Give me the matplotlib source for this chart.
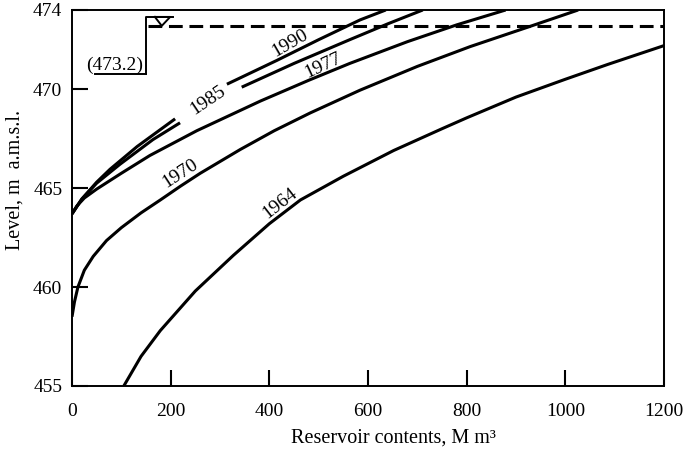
import numpy as np
import matplotlib
matplotlib.use("Agg")
import matplotlib.pyplot as plt

plt.rcParams['font.family'] = ['Liberation Serif', 'DejaVu Serif']

# Storage curves (M m3 vs m a.m.s.l.), nan = gap for label
x1964 = [105, 140, 179, 250, 327, 400, 463, 550, 652, 750, 800, 900, 1000, 1086, 1200]
y1964 = [455.0, 456.5, 457.8, 459.8, 461.6, 463.2, 464.4, 465.6, 466.9, 468.0, 468.55, 469.6, 470.5, 471.25, 472.2]

x1970 = [0, 5, 12, 25, 43, 70, 100, 140, 179, 220, 260, 341, 410, 483, 584, 700, 807, 920, 1026]
y1970 = [458.5, 459.25, 460.0, 460.85, 461.55, 462.35, 463.0, 463.75, 464.4, 465.1, 465.75,
         466.95, 467.9, 468.8, 469.95, 471.15, 472.15, 473.1, 474.0]

x1977 = [0, 10, 25, 50, 100, 158, 253, 382, 480, 563, 680, 780, 879]
y1977 = [463.7, 464.1, 464.5, 464.95, 465.75, 466.65, 467.9, 469.4, 470.45, 471.3, 472.4, 473.25, 474.0]

x1985 = [0, 20, 50, 97, 164, 219, np.nan, 344, 450, 563, 640, 711]
y1985 = [463.7, 464.45, 465.25, 466.2, 467.45, 468.3, np.nan, 470.1, 471.3, 472.5, 473.3, 474.0]

x1990 = [0, 20, 50, 77, 132, 209, np.nan, 314, 415, 500, 584, 636]
y1990 = [463.7, 464.45, 465.3, 465.95, 467.1, 468.5, np.nan, 470.25, 471.45, 472.5, 473.5, 474.0]

curves = [(x1964, y1964), (x1970, y1970), (x1977, y1977), (x1985, y1985), (x1990, y1990)]

# labels on curves: text, x, y, angle
lab_text = ['1964', '1970', '1977', '1985', '1990']
lab_x = [422, 219, 509, 276, 442]
lab_y = [464.25, 465.75, 471.2, 469.45, 472.3]
lab_rot = [38, 33, 25, 34, 30]

full_level = 473.2
xticks = [0, 200, 400, 600, 800, 1000, 1200]
yticks = [455, 460, 465, 470, 474]

fig = plt.figure(figsize=(6.83, 4.5), dpi=100)
ax = fig.add_axes([72 / 683, 64 / 450, 592 / 683, 376 / 450])

for xs, ys in curves:
    ax.plot(xs, ys, color='black', lw=2.2, solid_capstyle='butt',
            solid_joinstyle='round')

for t, x, y, r in zip(lab_text, lab_x, lab_y, lab_rot):
    ax.text(x, y, t, rotation=r, ha='center', va='center', fontsize=14,
            rotation_mode='anchor')

# full supply level
ax.plot([154, 1200], [full_level, full_level], color='black', lw=2.2,
        dashes=(4.5, 2.2))
ax.plot([150, 150, 205], [470.75, 473.65, 473.65], color='black', lw=1.4)
ax.plot([47, 150], [470.75, 470.75], color='black', lw=1.4)
ax.plot([168, 199, 182, 168], [473.65, 473.65, full_level, 473.65],
        color='black', lw=1.4)
ax.text(87, 471.2, '(473.2)', ha='center', va='center', fontsize=14)

ax.set_xlim(0, 1200)
ax.set_ylim(455, 474)
ax.set_xticks(xticks)
ax.set_yticks(yticks)
ax.tick_params(direction='in', length=11.5, width=1.5, labelsize=14)
ax.tick_params(axis='x', pad=12)
ax.tick_params(axis='y', pad=7)
for s in ax.spines.values():
    s.set_linewidth(1.4)

fig.text(393 / 683, 12 / 450, 'Reservoir contents, M m³', ha='center',
         va='center', fontsize=14.5)
fig.text(15 / 683, (450 - 180) / 450, 'Level, m  a.m.s.l.', rotation=90,
         ha='center', va='center', fontsize=14.5)

fig.savefig('out.png', dpi=100)
